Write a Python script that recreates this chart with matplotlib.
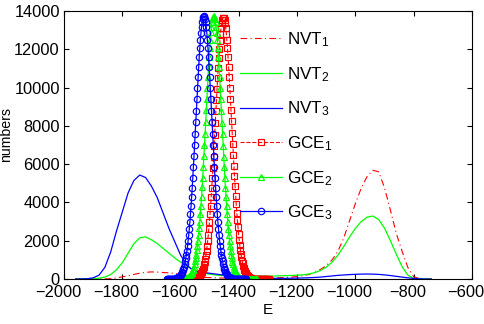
import numpy as np
import matplotlib
matplotlib.use("Agg")
import matplotlib.pyplot as plt
import matplotlib.transforms as mtransforms

# NVT histograms, energy grid from -1960 in steps of 20
nvt_start, nvt_step = -1960, 20
nvt1 = [0, 0, 0, 0, 0, 0, 20, 60, 110, 170, 240, 300, 350, 370, 360, 340,
        320, 290, 240, 190, 150, 115, 90, 75, 60, 50, 45, 40, 40, 40, 40, 40,
        45, 50, 55, 65, 80, 100, 130, 170, 240, 340, 500, 700, 1000, 1450,
        2150, 3050, 3950, 4750, 5350, 5680, 5600, 4750, 3600, 2400, 1450, 600,
        120, 20, 0, 0]
nvt2 = [0, 0, 5, 15, 40, 100, 230, 480, 850, 1350, 1850, 2150, 2200, 2050,
        1850, 1600, 1350, 1100, 880, 680, 520, 400, 310, 250, 210, 180, 165,
        155, 150, 150, 150, 150, 150, 150, 155, 165, 175, 185, 200, 220, 260,
        330, 440, 620, 880, 1250, 1700, 2200, 2650, 3000, 3230, 3290, 3100,
        2650, 2000, 1300, 650, 200, 30, 5, 0, 0]
nvt3 = [0, 5, 15, 60, 200, 600, 1400, 2500, 3500, 4500, 5150, 5430, 5300,
        4850, 4250, 3450, 2650, 1950, 1250, 750, 480, 380, 340, 300, 260, 220,
        180, 150, 120, 95, 75, 60, 50, 40, 35, 35, 35, 40, 45, 55, 65, 80, 100,
        130, 160, 190, 210, 230, 245, 255, 260, 255, 240, 215, 180, 140, 100,
        60, 30, 10, 0, 0]

# GCE histograms, energy grid in steps of 2
gce_step = 2
gce1_start = -1581
gce1 = [0, 0, 1, 1, 2, 2, 3, 4, 5, 6, 7, 9, 12, 15, 19, 25, 32, 41, 52, 66,
        83, 104, 130, 160, 198, 243, 298, 365, 440, 535, 640, 765, 905, 1070,
        1260, 1470, 1715, 1985, 2285, 2610, 2970, 3370, 3800, 4260, 4740, 5260,
        5800, 6360, 6950, 7540, 8140, 8750, 9350, 9940, 10500, 11040, 11550,
        12020, 12440, 12800, 13110, 13360, 13530, 13630, 13650,
        13620, 13520, 13360, 13120, 12820, 12460, 12050, 11590, 11090, 10560,
        10000, 9420, 8830, 8230, 7630, 7040, 6460, 5900, 5360, 4850, 4360,
        3900, 3470, 3070, 2700, 2360, 2060, 1790, 1540, 1320, 1130, 960, 810,
        680, 570, 475, 395, 325, 265, 215, 175, 140, 112, 89, 70, 55, 43, 34,
        26, 20, 15, 12, 9, 7, 5, 4, 3, 3, 2, 2, 1, 1, 1, 1, 1, 1, 0, 0, 0, 0,
        0, 0, 0, 0, 0, 0, 0, 0]
gce2_start = -1614
gce2 = [0, 1, 1, 1, 2, 2, 3, 3, 4, 5, 7, 9, 11, 15, 19, 25, 32, 41, 53, 66,
        84, 106, 132, 163, 203, 248, 305, 372, 450, 545, 650, 775, 920, 1085,
        1275, 1490, 1735, 2010, 2310, 2640, 3000, 3400, 3830, 4290, 4780, 5300,
        5850, 6410, 7000, 7590, 8200, 8810, 9410, 10000, 10570, 11110, 11620,
        12090, 12510, 12880, 13190, 13440, 13610, 13700, 13720,
        13690, 13580, 13400, 13160, 12850, 12480, 12060, 11590, 11080, 10540,
        9970, 9380, 8780, 8170, 7570, 6970, 6390, 5830, 5280, 4760, 4270, 3810,
        3380, 2980, 2620, 2290, 1990, 1720, 1480, 1270, 1080, 910, 770, 645,
        540, 445, 370, 300, 245, 200, 162, 131, 106, 84, 66, 52, 41, 32, 25,
        19, 15, 11, 9, 7, 5, 4, 3, 3, 2, 2, 1, 1, 1, 1, 1, 0, 0, 0, 0, 0, 0,
        0, 0, 0]
gce3_start = -1648
gce3 = [0, 0, 1, 1, 1, 2, 2, 3, 4, 5, 6, 8, 11, 14, 18, 24, 31, 40, 51, 65,
        82, 105, 130, 160, 200, 245, 300, 370, 445, 540, 645, 770, 915, 1080,
        1270, 1480, 1730, 2000, 2300, 2630, 2990, 3390, 3820, 4280, 4770, 5290,
        5840, 6400, 6990, 7580, 8190, 8800, 9400, 9990, 10560, 11100, 11610,
        12080, 12500, 12870, 13180, 13430, 13600, 13710, 13750,
        13710, 13600, 13430, 13180, 12870, 12500, 12080, 11610, 11100, 10560,
        9990, 9400, 8800, 8190, 7580, 6990, 6400, 5840, 5290, 4770, 4280, 3820,
        3390, 2990, 2630, 2300, 2000, 1730, 1480, 1270, 1080, 915, 770, 645,
        540, 445, 370, 300, 245, 200, 160, 130, 105, 82, 65, 51, 40, 31, 24,
        18, 14, 11, 8, 6, 5, 4, 3, 2, 2, 1, 1, 1, 1, 1, 1, 0, 0, 0, 0, 0, 0,
        0, 0]

x_ticks = [-2000, -1800, -1600, -1400, -1200, -1000, -800, -600]
y_ticks = [0, 2000, 4000, 6000, 8000, 10000, 12000, 14000]

RED, GREEN, BLUE = "#ff0000", "#00ff00", "#0000ff"

plt.rcParams["font.family"] = ["Liberation Sans", "DejaVu Sans"]
plt.rcParams["mathtext.fontset"] = "custom"
plt.rcParams["mathtext.rm"] = "Liberation Sans"
plt.rcParams["mathtext.it"] = "Liberation Sans"


def grid(start, step, vals):
    return start + step * np.arange(len(vals))


fig = plt.figure(figsize=(4.84, 3.24), dpi=100)
ax = fig.add_axes([64 / 484, 45 / 324, 408 / 484, 268 / 324])

dashdot = (0, (6, 3, 1, 3))
ax.plot(grid(nvt_start, nvt_step, nvt1), nvt1, color=RED, lw=0.8,
        linestyle=dashdot, label="NVT$_1$")
ax.plot(grid(nvt_start, nvt_step, nvt2), nvt2, color=GREEN, lw=0.9,
        label="NVT$_2$")
ax.plot(grid(nvt_start, nvt_step, nvt3), nvt3, color=BLUE, lw=0.9,
        label="NVT$_3$")

mk = dict(markersize=4.6, markerfacecolor="none", markeredgewidth=0.85)
ax.plot(grid(gce1_start, gce_step, gce1), gce1, color=RED, lw=0.8,
        linestyle="--", marker="s", label="GCE$_1$", **mk)
ax.plot(grid(gce2_start, gce_step, gce2), gce2, color=GREEN, lw=0.9,
        marker="^", label="GCE$_2$", **mk)
ax.plot(grid(gce3_start, gce_step, gce3), gce3, color=BLUE, lw=0.9,
        marker="o", label="GCE$_3$", **mk)

ax.set_xlim(-2000, -600)
ax.set_ylim(0, 14000)
ax.set_xticks(x_ticks)
ax.set_yticks(y_ticks)
ax.tick_params(direction="in", top=True, right=True, length=3.5, width=0.8,
               labelsize=11.8, pad=3)
ax.tick_params(axis="x", pad=4.5)
for s in ax.spines.values():
    s.set_linewidth(0.8)

# x tick labels sit a little left of their ticks, as in the original
shift = mtransforms.ScaledTranslation(-6 / 100, 0, fig.dpi_scale_trans)
for lab in ax.get_xticklabels():
    lab.set_transform(lab.get_transform() + shift)

ax.set_xlabel("E", fontsize=11, labelpad=2)
ax.set_ylabel("numbers", fontsize=10.2)
ax.yaxis.set_label_coords(-0.125, 0.54)

ax.legend(loc="upper left", bbox_to_anchor=(0.403, 0.972), frameon=False,
          fontsize=12.3, handlelength=2.45, handletextpad=0.3,
          labelspacing=0.93, numpoints=1, borderpad=0.2)

fig.savefig("out.png", dpi=100)
